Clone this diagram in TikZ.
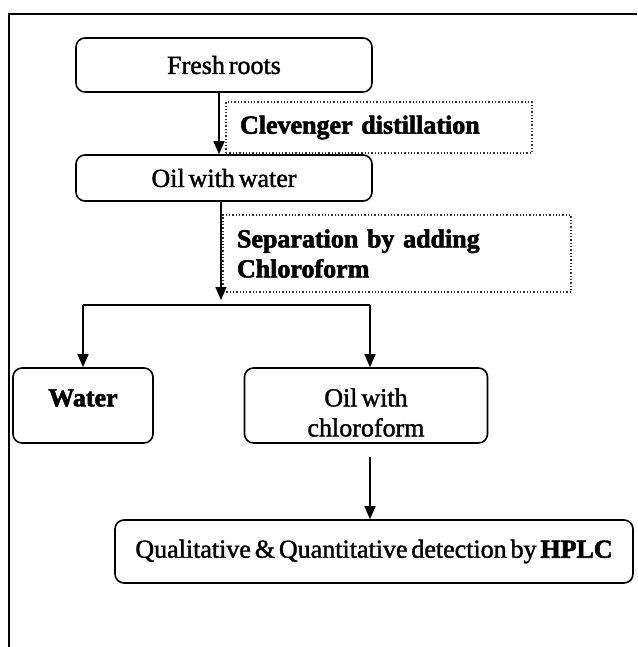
\documentclass[tikz,border=0pt]{standalone}
\usepackage{fontspec}
\setmainfont{Liberation Serif}
\newfontfamily\rg{Liberation Serif}[FakeBold=1.5, WordSpace={0.6,0.5,0.3}]
\newfontfamily\bd{Liberation Serif Bold}[FakeBold=2.2, WordSpace={0.6,0.5,0.3}]
\usetikzlibrary{arrows.meta}
\begin{document}
\begin{tikzpicture}[x=1pt,y=-1pt,
  box/.style={draw, line width=1.6pt, rounded corners=9pt, inner sep=0pt},
  dotbox/.style={draw=black!80, dotted, line width=1.3pt, inner ysep=0pt, inner xsep=14pt, align=left},
  txt/.style={inner sep=0pt, align=center},
  arr/.style={line width=1.5pt, -{Triangle[length=13pt,width=11pt]}},
  ln/.style={line width=1.5pt},
  every node/.style={font=\rg\fontsize{26}{30}\selectfont}]
\useasboundingbox (0,0) rectangle (637,647);
\fill[white] (0,0) rectangle (637,647);
% frame
\draw[line width=2.8pt] (9,647) -- (9,14) -- (637,14);
% boxes
\node[box, minimum width=296pt, minimum height=54pt] (fresh) at (224,65) {Fresh roots};
\node[box, minimum width=296pt, minimum height=46pt] (oil) at (224,178) {Oil with water};
\node[dotbox, minimum height=51pt, text width=278pt] (clev) at (379,127.5) {\bd Clevenger distillation};
\node[dotbox, minimum height=77pt, text width=320pt] (sep) at (397,253.5) {\bd Separation by adding\\Chloroform};
\node[box, minimum width=140pt, minimum height=75pt] (water) at (83,405.5) {};
\node[txt] (watertxt) at (83,398) {\bd Water};
\node[box, minimum width=243pt, minimum height=75pt] (oilchl) at (366,405.5) {};
\node[txt] (oilchltxt) at (366,412.5) {Oil with\\chloroform};
\node[box, minimum width=518pt, minimum height=63pt] (qual) at (374,551.5) {Qualitative \& Quantitative detection by {\bd HPLC}};
% connectors
\coordinate (split) at (221,300);
\coordinate (wbr) at (83,305);
\coordinate (obr) at (370,305);
\coordinate (a3) at (370,457);
\draw[arr] ([xshift=-5pt]fresh.south) -- ([xshift=-5pt]oil.north);
\draw[arr] (oil.south -| split) -- (split);
\draw[ln] (wbr) -- (obr);
\draw[arr] (wbr) -- (water.north);
\draw[arr] (obr) -- (obr |- oilchl.north);
\draw[arr] (a3) -- (a3 |- qual.north);
\end{tikzpicture}
\end{document}
